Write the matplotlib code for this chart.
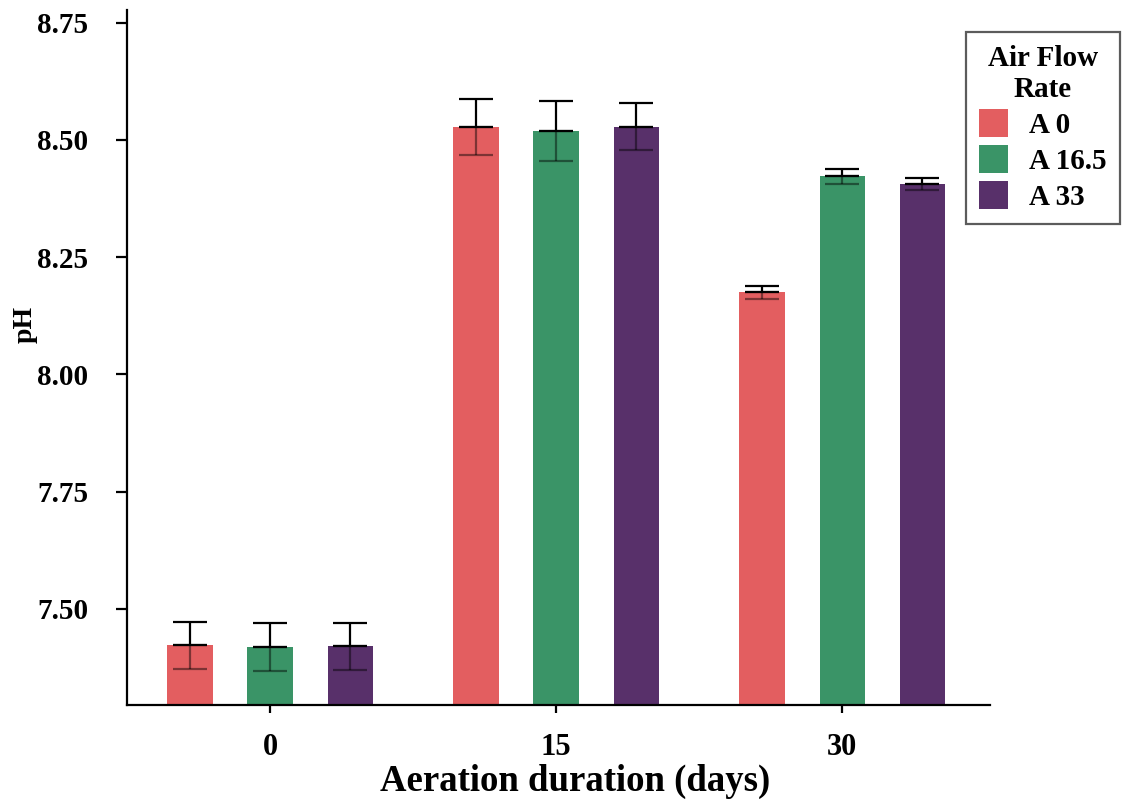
import matplotlib.pyplot as plt
import numpy as np
from matplotlib.patches import Patch

plt.rcParams['font.family'] = ['Liberation Serif', 'DejaVu Serif']
plt.rcParams['font.weight'] = 'bold'

days = ['0', '15', '30']
series = ['A 0', 'A 16.5', 'A 33']
colors = ['#E35E60', '#3A9467', '#58306A']

ph_a0 = [7.423, 8.528, 8.175]
ph_a16 = [7.419, 8.519, 8.423]
ph_a33 = [7.421, 8.528, 8.406]

err_a0 = [0.050, 0.060, 0.014]
err_a16 = [0.052, 0.063, 0.016]
err_a33 = [0.050, 0.050, 0.013]

values = [ph_a0, ph_a16, ph_a33]
errors = [err_a0, err_a16, err_a33]

fig = plt.figure(figsize=(11.36, 8.09), dpi=100)
ax = fig.add_axes([0.1118, 0.1286, 0.7597, 0.859])

x = np.arange(len(days))
offsets = [-0.28, 0.0, 0.28]
width = 0.158

for vals, errs, col, off in zip(values, errors, colors, offsets):
    xs = x + off
    ax.bar(xs, np.array(vals) - 7.29, bottom=7.29, width=width, color=col, zorder=2)
    # upper half of the error bar in black, lower half faint over the bar
    ax.errorbar(xs, vals, yerr=[np.zeros(3), errs], fmt='none', ecolor='black',
                elinewidth=1.6, capsize=12, capthick=1.6, zorder=3)
    ax.errorbar(xs, vals, yerr=[errs, np.zeros(3)], fmt='none', ecolor='black',
                alpha=0.45, elinewidth=1.6, capsize=12, capthick=1.6, zorder=3)

ax.set_ylim(7.2954, 8.777)
ax.set_xlim(-0.5, 2.517)
ax.set_yticks([7.50, 7.75, 8.00, 8.25, 8.50, 8.75])
ax.set_yticklabels(['7.50', '7.75', '8.00', '8.25', '8.50', '8.75'])
ax.set_xticks(x)
ax.set_xticklabels(days)

for s in ['top', 'right']:
    ax.spines[s].set_visible(False)
for s in ['left', 'bottom']:
    ax.spines[s].set_linewidth(1.6)

ax.tick_params(axis='y', direction='out', length=8, width=1.6, labelsize=21, pad=20)
ax.tick_params(axis='x', direction='out', length=6, width=1.6, labelsize=22, pad=14)
for lab in ax.get_xticklabels() + ax.get_yticklabels():
    lab.set_fontweight('bold')

ax.set_xlabel('Aeration duration (days)', fontsize=26.5, fontweight='bold')
ax.xaxis.set_label_coords(0.519, -0.085)
ax.set_ylabel('pH', fontsize=20, fontweight='bold')
ax.yaxis.set_label_coords(-0.103, 0.547)

handles = [Patch(facecolor=c, edgecolor='none') for c in colors]
leg = fig.legend(handles, series, loc='upper left', bbox_to_anchor=(0.8504, 0.9604),
                 title='Air Flow\nRate', fontsize=21, title_fontproperties={'weight': 'bold', 'size': 21},
                 frameon=True, fancybox=False, edgecolor='#333333', handlelength=1.0,
                 handleheight=1.1, handletextpad=0.7, labelspacing=0.2, borderpad=0.45,
                 borderaxespad=0)
leg.get_frame().set_linewidth(1.6)
leg._legend_box.align = 'center'
leg.get_title().set_multialignment('center')
for t in leg.get_texts():
    t.set_fontweight('bold')

fig.savefig('out.png', dpi=100)
